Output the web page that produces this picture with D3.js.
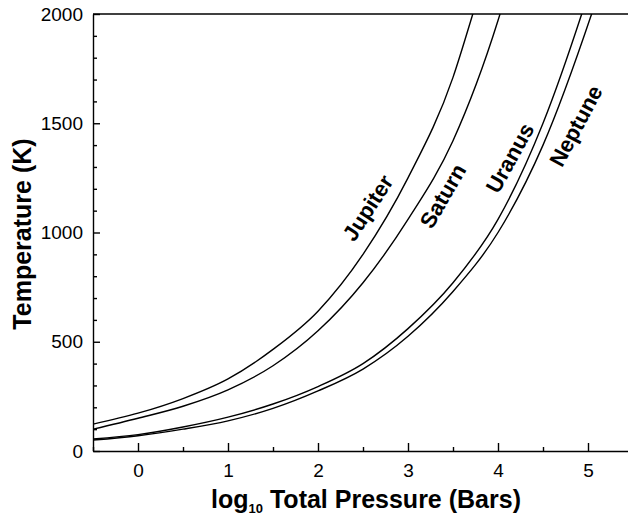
<!DOCTYPE html>
<html>
<head>
<meta charset="utf-8">
<script src="https://cdn.jsdelivr.net/npm/d3@7"></script>
<style>
  body { margin: 0; background: #fff; }
  text { font-family: "Liberation Sans", Arial, sans-serif; fill: #000; }
</style>
</head>
<body>
<div class="chart"></div>
<script>
// DATA ------------------------------**
const jupiterP = [-0.5, 0, 0.5, 1, 1.5, 2, 2.5, 3, 3.5, 3.72, 3.9];
const jupiterT = [123, 173, 240, 330, 465, 640, 900, 1250, 1710, 2000, 2250];

const saturnP = [-0.5, 0, 0.5, 1, 1.5, 2, 2.5, 3, 3.5, 4, 4.2];
const saturnT = [100, 150, 205, 280, 390, 550, 770, 1060, 1420, 1970, 2250];

const uranusP = [-0.5, 0, 0.5, 1, 1.5, 2, 2.5, 3, 3.5, 4, 4.5, 4.93, 5.1];
const uranusT = [55, 75, 110, 155, 215, 295, 400, 560, 770, 1060, 1500, 2000, 2220];

const neptuneP = [-0.5, 0, 0.5, 1, 1.5, 2, 2.5, 3, 3.5, 4, 4.5, 5.04, 5.2];
const neptuneT = [50, 70, 100, 138, 195, 275, 375, 525, 730, 1000, 1400, 2000, 2200];

const xTicks = [0, 1, 2, 3, 4, 5];
const yTicks = [0, 500, 1000, 1500, 2000];

const planets = [
  {name: 'Jupiter', p: jupiterP, t: jupiterT, lx: 368, ly: 208, rot: -57},
  {name: 'Saturn',  p: saturnP,  t: saturnT,  lx: 443, ly: 196, rot: -60},
  {name: 'Uranus',  p: uranusP,  t: uranusT,  lx: 510, ly: 158, rot: -61},
  {name: 'Neptune', p: neptuneP, t: neptuneT, lx: 576, ly: 126, rot: -62}
];

// CHART INIT ------------------------------**
const W = 628, H = 518;
const svg = d3.select('.chart').append('svg')
    .attr('width', W)
    .attr('height', H);

const xScale = d3.scaleLinear().domain([-0.5, 5.5]).range([93, 633]);
const yScale = d3.scaleLinear().domain([0, 2000]).range([451, 14]);

svg.append('clipPath').attr('id', 'plot-clip')
  .append('rect')
    .attr('x', xScale(-0.5))
    .attr('y', yScale(2000))
    .attr('width', xScale(5.5) - xScale(-0.5))
    .attr('height', yScale(0) - yScale(2000));

// curves
const line = d3.line()
    .x(d => xScale(d[0]))
    .y(d => yScale(d[1]))
    .curve(d3.curveMonotoneX);

svg.append('g')
    .attr('clip-path', 'url(#plot-clip)')
  .selectAll('path')
  .data(planets)
  .join('path')
    .attr('d', d => line(d.p.map((p, i) => [p, d.t[i]])))
    .attr('fill', 'none')
    .attr('stroke', '#000')
    .attr('stroke-width', 1.4);

// axes
const xMinor = d3.range(-0.5, 5.51, 0.5).filter(v => !xTicks.includes(v));
const yMinor = d3.range(0, 2001, 100).filter(v => !yTicks.includes(v));

const xAxis = d3.axisBottom(xScale)
    .tickValues(xTicks)
    .tickSizeInner(-8)
    .tickSizeOuter(0)
    .tickPadding(13)
    .tickFormat(d3.format('d'));

const xAxisGroup = svg.append('g')
    .attr('class', 'axis x-axis')
    .attr('transform', 'translate(0,' + yScale(0) + ')')
    .call(xAxis);

svg.append('g')
    .attr('transform', 'translate(0,' + yScale(0) + ')')
    .call(d3.axisBottom(xScale).tickValues(xMinor).tickSizeInner(-4).tickSizeOuter(0).tickFormat(''))
    .select('.domain').remove();

const yAxis = d3.axisLeft(yScale)
    .tickValues(yTicks)
    .tickSizeInner(-7)
    .tickSizeOuter(0)
    .tickPadding(10)
    .tickFormat(d3.format('d'));

const yAxisGroup = svg.append('g')
    .attr('class', 'axis y-axis')
    .attr('transform', 'translate(' + xScale(-0.5) + ',0)')
    .call(yAxis);

svg.append('g')
    .attr('transform', 'translate(' + xScale(-0.5) + ',0)')
    .call(d3.axisLeft(yScale).tickValues(yMinor).tickSizeInner(-4).tickSizeOuter(0).tickFormat(''))
    .select('.domain').remove();

svg.selectAll('.axis .domain, .tick line')
    .attr('stroke', '#000')
    .attr('stroke-width', 1.4);

svg.selectAll('.axis .tick text')
    .attr('font-size', 19)
    .attr('font-family', '"Liberation Sans", Arial, sans-serif');

xAxisGroup.selectAll('.tick text').attr('dy', '0.71em');

// top frame line
svg.append('line')
    .attr('x1', xScale(-0.5)).attr('x2', xScale(5.5))
    .attr('y1', yScale(2000)).attr('y2', yScale(2000))
    .attr('stroke', '#000')
    .attr('stroke-width', 1.4);

// planet labels
svg.selectAll('.planet-label')
  .data(planets)
  .join('text')
    .attr('class', 'planet-label')
    .attr('transform', d => 'translate(' + d.lx + ',' + d.ly + ') rotate(' + d.rot + ')')
    .attr('text-anchor', 'middle')
    .attr('dominant-baseline', 'central')
    .attr('font-size', 22)
    .attr('font-weight', 'bold')
    .text(d => d.name);

// axis titles
const xTitle = svg.append('text')
    .attr('x', 366)
    .attr('y', 508)
    .attr('text-anchor', 'middle')
    .attr('font-size', 25)
    .attr('font-weight', 'bold');
xTitle.append('tspan').text('log');
xTitle.append('tspan').attr('font-size', 13).attr('dy', 5).text('10');
xTitle.append('tspan').attr('dy', -5).text(' Total Pressure (Bars)');

svg.append('text')
    .attr('transform', 'translate(31,234) rotate(-90)')
    .attr('text-anchor', 'middle')
    .attr('font-size', 25)
    .attr('font-weight', 'bold')
    .text('Temperature (K)');
</script>
</body>
</html>
